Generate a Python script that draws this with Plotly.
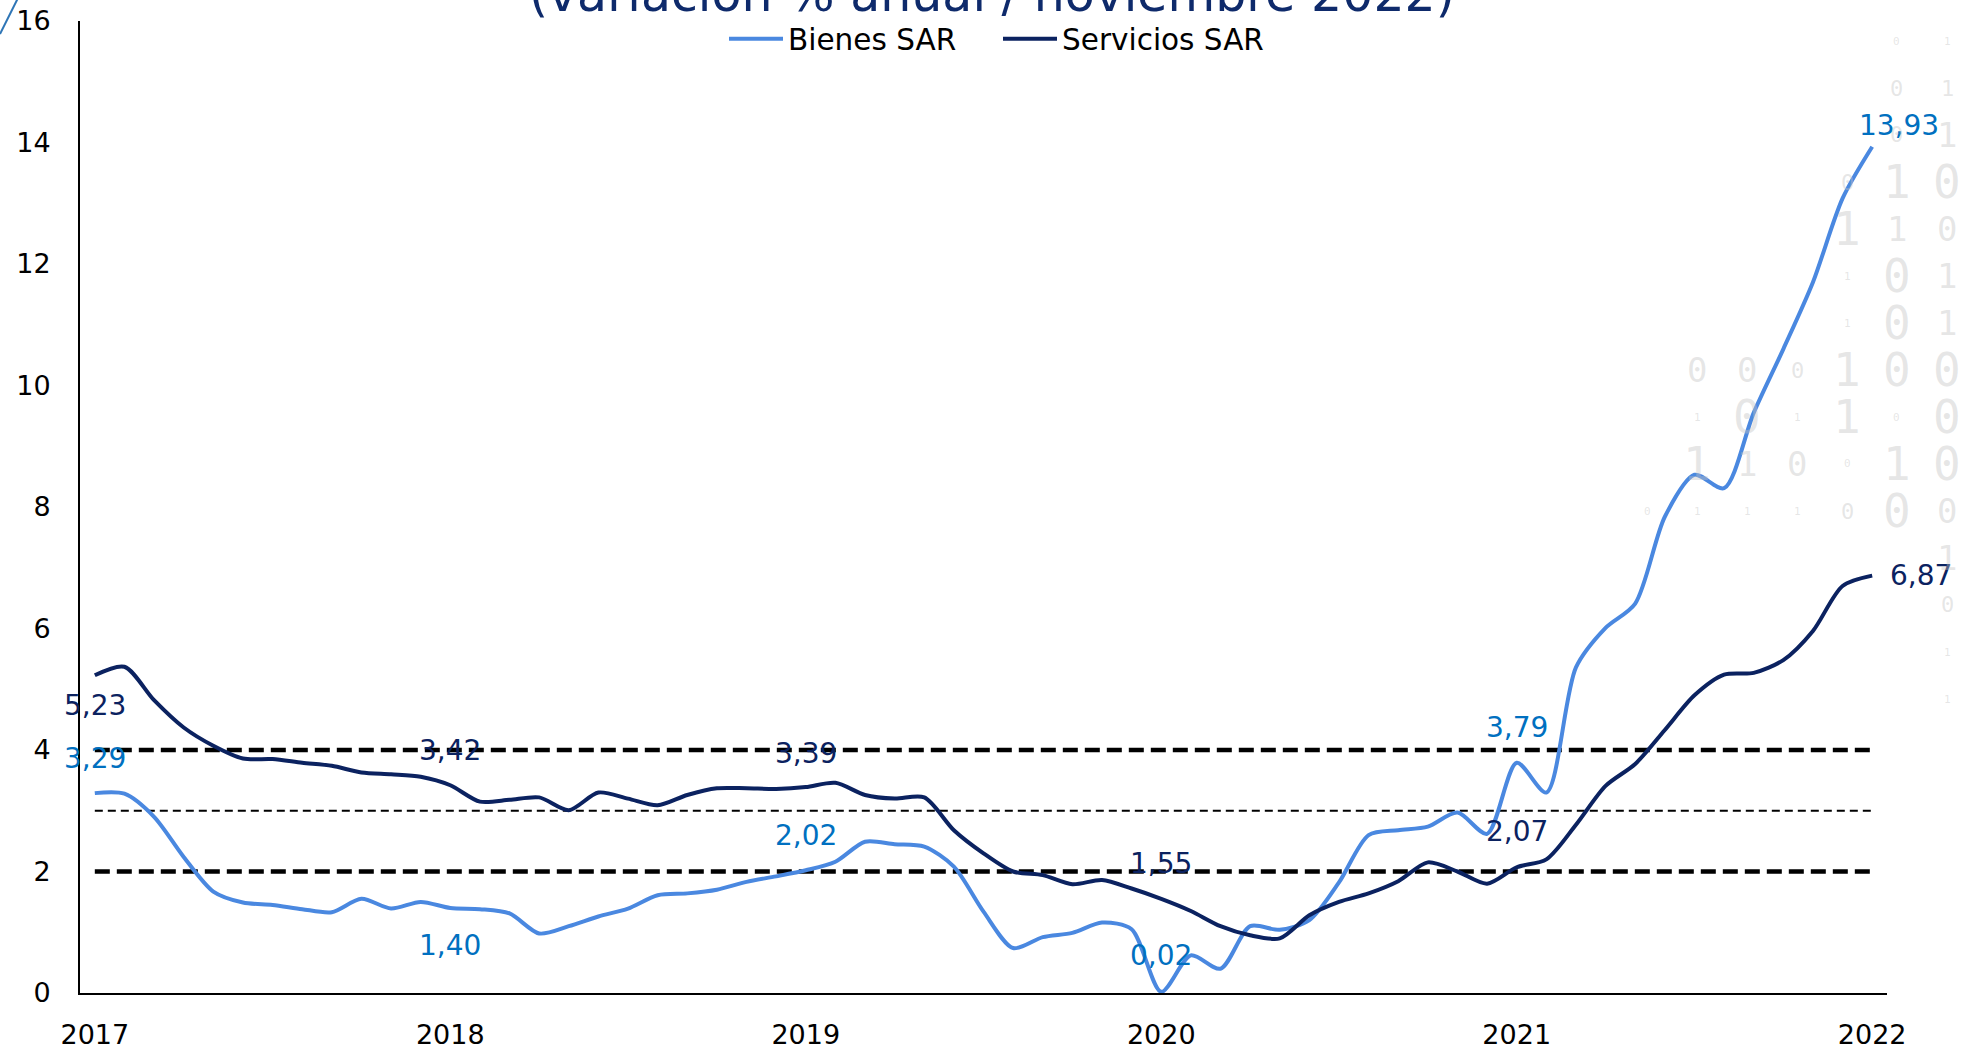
import plotly.graph_objects as go

# Monthly series, Nov 2017 - Nov 2022 (% annual change)
meses = list(range(61))
anios_idx = [0, 12, 24, 36, 48, 60]
anios_txt = ["2017", "2018", "2019", "2020", "2021", "2022"]

bienes = [
    3.29, 3.28, 2.90, 2.24, 1.67, 1.49, 1.45, 1.38, 1.33, 1.55, 1.39, 1.50,
    1.40, 1.38, 1.31, 0.98, 1.10, 1.26, 1.39, 1.61, 1.64, 1.70, 1.83, 1.92,
    2.02, 2.16, 2.49, 2.45, 2.41, 2.08, 1.34, 0.74, 0.92, 0.99, 1.16, 1.05,
    0.02, 0.62, 0.40, 1.10, 1.04, 1.20, 1.82, 2.60, 2.68, 2.74, 2.97, 2.62,
    3.79, 3.30, 5.36, 6.01, 6.41, 7.84, 8.53, 8.31, 9.55, 10.60, 11.70, 13.08,
    13.93,
]
servicios = [
    5.23, 5.37, 4.82, 4.37, 4.07, 3.86, 3.85, 3.79, 3.74, 3.63, 3.60, 3.56,
    3.42, 3.15, 3.18, 3.22, 3.01, 3.30, 3.20, 3.09, 3.26, 3.37, 3.37, 3.36,
    3.39, 3.46, 3.26, 3.20, 3.22, 2.68, 2.30, 2.00, 1.94, 1.79, 1.86, 1.72,
    1.55, 1.35, 1.10, 0.95, 0.90, 1.28, 1.50, 1.64, 1.84, 2.15, 2.00, 1.80,
    2.07, 2.20, 2.77, 3.41, 3.77, 4.33, 4.90, 5.24, 5.27, 5.48, 5.96, 6.70,
    6.87,
]

# Target range (2% - 4%) and centre (3%)
meta_inf = 2
meta_centro = 3
meta_sup = 4

AZUL_CLARO = "#4A88E0"
AZUL_OSCURO = "#0B2260"
ETIQ_CLARO = "#0070C0"
FONT = "DejaVu Sans"

W, H = 1981, 1049
ML, MR, MT, MB = 80, 94, 21, 56
PW, PH = W - ML - MR, H - MT - MB


def px_x(p):
    return (p - ML) / PW


def px_y(p):
    return (H - MB - p) / PH


fig = go.Figure()

for val, w, dash in [(meta_sup, 4.5, "15px,7px"), (meta_centro, 2, "8px,5px"), (meta_inf, 4.5, "15px,7px")]:
    fig.add_trace(go.Scatter(
        x=meses, y=[val] * len(meses), mode="lines",
        line=dict(color="black", width=w, dash=dash),
        showlegend=False, hoverinfo="skip",
    ))

fig.add_trace(go.Scatter(
    x=meses, y=bienes, mode="lines", name="Bienes SAR",
    line=dict(color=AZUL_CLARO, width=4, shape="spline", smoothing=0.8),
))
fig.add_trace(go.Scatter(
    x=meses, y=servicios, mode="lines", name="Servicios SAR",
    line=dict(color=AZUL_OSCURO, width=4, shape="spline", smoothing=0.8),
))


def fmt(v):
    return f"{v:.2f}".replace(".", ",")


annotations = []
# value labels at each November
ajustes_b = {0: (0, 35), 12: (0, -38), 24: (0, 35), 36: (0, 36), 48: (0, 35)}
ajustes_s = {0: (0, -30), 12: (0, 35), 24: (0, 34), 36: (0, 35), 48: (0, 36)}
for i in anios_idx[:-1]:
    dx, dy = ajustes_b[i]
    annotations.append(dict(x=i, y=bienes[i], xref="x", yref="y", text=fmt(bienes[i]),
                            showarrow=False, xshift=dx, yshift=dy,
                            font=dict(family=FONT, size=28, color=ETIQ_CLARO)))
    dx, dy = ajustes_s[i]
    annotations.append(dict(x=i, y=servicios[i], xref="x", yref="y", text=fmt(servicios[i]),
                            showarrow=False, xshift=dx, yshift=dy,
                            font=dict(family=FONT, size=28, color=AZUL_OSCURO)))
annotations.append(dict(x=60, y=bienes[60], xref="x", yref="y", text=fmt(bienes[60]),
                        showarrow=False, xshift=27, yshift=21,
                        font=dict(family=FONT, size=28, color=ETIQ_CLARO)))
annotations.append(dict(x=60, y=servicios[60], xref="x", yref="y", text=fmt(servicios[60]),
                        showarrow=False, xanchor="left", xshift=16, yshift=0,
                        font=dict(family=FONT, size=28, color=AZUL_OSCURO)))

# subtitle line
annotations.append(dict(x=px_x(992), y=px_y(25), xref="paper", yref="paper",
                        xanchor="center", yanchor="bottom", showarrow=False,
                        text="(variación % anual / noviembre 2022)",
                        font=dict(family=FONT, size=49, color="#0E2A6B")))

# binary-digit background pattern
COLS = [1647 + 50 * c for c in range(7)]
ROWS = [41 + 47 * r for r in range(15)]
SZ = {"L": 46, "M": 34, "S": 22, "T": 11}
patron = [
    (0, 5, "0", "T"), (0, 6, "1", "T"),
    (1, 5, "0", "S"), (1, 6, "1", "S"),
    (2, 5, "0", "S"), (2, 6, "1", "M"),
    (3, 4, "0", "S"), (3, 5, "1", "L"), (3, 6, "0", "L"),
    (4, 4, "1", "L"), (4, 5, "1", "M"), (4, 6, "0", "M"),
    (5, 4, "1", "T"), (5, 5, "0", "L"), (5, 6, "1", "M"),
    (6, 4, "1", "T"), (6, 5, "0", "L"), (6, 6, "1", "M"),
    (7, 1, "0", "M"), (7, 2, "0", "M"), (7, 3, "0", "S"), (7, 4, "1", "L"), (7, 5, "0", "L"), (7, 6, "0", "L"),
    (8, 1, "1", "T"), (8, 2, "0", "L"), (8, 3, "1", "T"), (8, 4, "1", "L"), (8, 5, "0", "T"), (8, 6, "0", "L"),
    (9, 1, "1", "L"), (9, 2, "1", "M"), (9, 3, "0", "M"), (9, 4, "0", "T"), (9, 5, "1", "L"), (9, 6, "0", "L"),
    (10, 0, "0", "T"), (10, 1, "1", "T"), (10, 2, "1", "T"), (10, 3, "1", "T"), (10, 4, "0", "S"), (10, 5, "0", "L"), (10, 6, "0", "M"),
    (11, 6, "1", "M"), (12, 6, "0", "S"), (13, 6, "1", "T"), (14, 6, "1", "T"),
]
for r, c, d, s in patron:
    annotations.append(dict(x=px_x(COLS[c]), y=px_y(ROWS[r]), xref="paper", yref="paper",
                            xanchor="center", yanchor="middle", showarrow=False, text=d,
                            font=dict(family="DejaVu Sans Mono", size=SZ[s], color="rgba(195,195,195,0.42)")))

fig.update_layout(
    width=W, height=H,
    margin=dict(l=ML, r=MR, t=MT, b=MB, autoexpand=False),
    paper_bgcolor="white", plot_bgcolor="white",
    showlegend=True,
    legend=dict(orientation="h", x=px_x(998), xanchor="center", y=px_y(39), yanchor="middle",
                font=dict(family=FONT, size=29.5, color="black"),
                itemwidth=54, entrywidth=205, bgcolor="rgba(0,0,0,0)"),
    annotations=annotations,
    shapes=[dict(type="line", xref="paper", yref="paper",
                 x0=px_x(0), y0=px_y(34), x1=px_x(18), y1=px_y(-2),
                 line=dict(color="#2E75B6", width=2))],
    xaxis=dict(range=[-0.5, 60.5], tickvals=anios_idx, ticktext=anios_txt,
               showgrid=False, zeroline=False, showline=True, linecolor="black", linewidth=2,
               ticks="", ticklabelstandoff=17, automargin=False,
               tickfont=dict(family=FONT, size=27, color="black")),
    yaxis=dict(range=[0, 16], dtick=2, showgrid=False, zeroline=False,
               showline=True, linecolor="black", linewidth=2, ticks="",
               ticklabelstandoff=22, automargin=False,
               tickfont=dict(family=FONT, size=27, color="black")),
)

fig.write_html("out.html")
